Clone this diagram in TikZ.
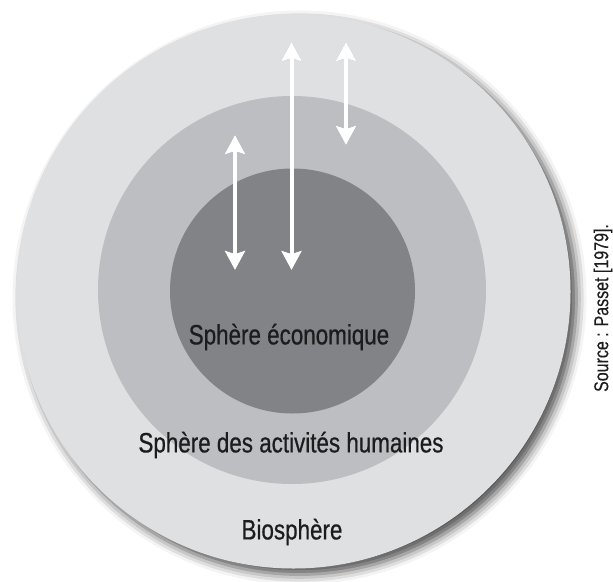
\documentclass[tikz,border=0pt]{standalone}
\usepackage{fontspec}
\setmainfont{Liberation Sans}
\newfontfamily\narrowfont[FakeStretch=0.80,FakeBold=0.6]{Liberation Sans}
\newfontfamily\srcfont[FakeStretch=0.80,FakeBold=0.3]{Liberation Sans}
\usetikzlibrary{arrows.meta,shadows.blur}
\definecolor{bioC}{HTML}{DFE0E2}
\definecolor{humC}{HTML}{BCBEC1}
\definecolor{ecoC}{HTML}{818386}
\definecolor{txtC}{HTML}{1C1C1E}
\tikzset{
  sphere/.style={circle, inner sep=0pt, draw=none},
  label/.style={font=\narrowfont\fontsize{28}{28}\selectfont, text=txtC, inner sep=0pt},
  flow/.style={draw=white, line width=4pt,
    {Stealth[width=20pt,length=19pt,inset=3pt]}-{Stealth[width=20pt,length=19pt,inset=3pt]}},
  flowshadow/.style={draw=black, line width=4pt,
    {Stealth[width=20pt,length=19pt,inset=3pt]}-{Stealth[width=20pt,length=19pt,inset=3pt]}}
}
\begin{document}
\begin{tikzpicture}[x=1pt,y=-1pt]
\useasboundingbox (0,0) rectangle (613,581);
% spheres
\node[sphere, fill=bioC, minimum size=554pt,
  blur shadow={shadow xshift=6pt, shadow yshift=-6pt, shadow blur radius=10pt, shadow opacity=70}]
  (bio) at (293.5,291.5) {};
\node[sphere, fill=humC, minimum size=388pt] (hum) at (292,290) {};
\node[sphere, fill=ecoC, minimum size=245pt] (eco) at (292.5,291) {};
% arrow end points
\coordinate (a1t) at (235,135);
\coordinate (a1b) at (235,270);
\coordinate (a2t) at (291.5,42);
\coordinate (a2b) at (291.5,270);
\coordinate (a3t) at (346,42);
\coordinate (a3b) at (346,145);
% arrow soft shadows
\foreach \s/\o in {6/0.05,4.5/0.07,3/0.09}{
\begin{scope}[xshift=\s pt,yshift=-2pt, opacity=\o]
\draw[flowshadow] (a1t) -- (a1b);
\draw[flowshadow] (a2t) -- (a2b);
\draw[flowshadow] (a3t) -- (a3b);
\end{scope}}
% arrows
\draw[flow] (a1t) -- (a1b);
\draw[flow] (a2t) -- (a2b);
\draw[flow] (a3t) -- (a3b);
% labels
\node[label] (leco) at (289,337) {Sphère économique};
\node[label] (lhum) at (291,445) {Sphère des activités humaines};
\node[label] (lbio) at (292,532) {Biosphère};
\node[font=\srcfont\fontsize{20}{20}\selectfont, text=txtC, inner sep=0pt, rotate=90]
  (src) at (603,308) {Source : Passet [1979].};
\end{tikzpicture}
\end{document}
